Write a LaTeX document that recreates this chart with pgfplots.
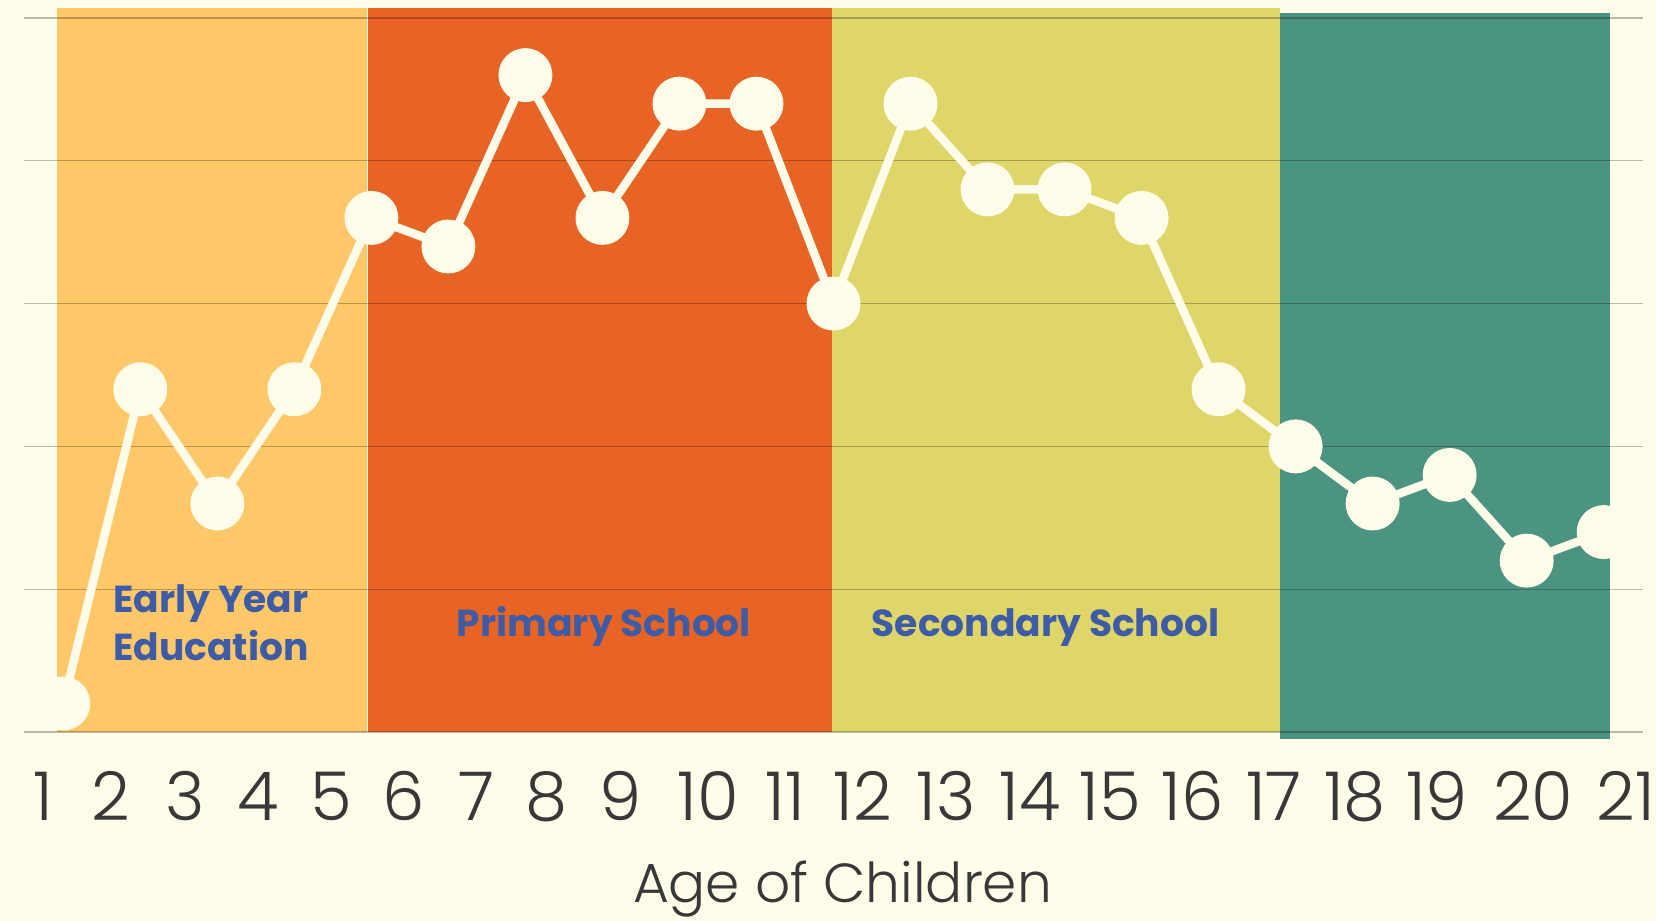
\documentclass[border=0pt]{standalone}
\usepackage{fontspec}
\setmainfont{Poppins}
\newfontfamily\plight{Poppins Light}
\usepackage{pgfplots}
\pgfplotsset{compat=1.18}
\definecolor{bgc}{RGB}{255,252,233}
\definecolor{bandA}{RGB}{254,200,104}
\definecolor{bandB}{RGB}{231,100,37}
\definecolor{bandC}{RGB}{223,214,106}
\definecolor{bandD}{RGB}{76,148,130}
\definecolor{linec}{RGB}{255,252,233}
\definecolor{txtblue}{RGB}{62,91,166}
\definecolor{tickc}{RGB}{56,56,56}
\begin{document}
\begin{tikzpicture}
\path[use as bounding box, fill=bgc] (0,0) rectangle (828pt,460.5pt);
% background axis: bands, grid, tick labels
\begin{axis}[
  at={(12pt,94.5pt)}, anchor=south west,
  scale only axis, width=809.35pt, height=357pt,
  xmin=0.4897, xmax=21.506, ymin=0, ymax=25,
  clip=false, axis on top,
  axis line style={draw=none},
  ytick={5,10,15,20,25}, yticklabels={},
  ymajorgrids,
  major grid style={draw=black, draw opacity=0.26, line width=0.65pt},
  extra y ticks={0}, extra y tick labels={},
  extra y tick style={grid style={draw=black, draw opacity=0.72, line width=0.8pt}},
  xtick={0.7364,1.6193,2.5801,3.5279,4.4757,5.4235,6.3583,7.2802,8.2409,9.3705,10.3703,11.3830,12.4606,13.5513,14.5900,15.6676,16.7193,17.7710,18.8357,20.0821,21.2896},
  xticklabels={1,2,3,4,5,6,7,8,9,10,11,12,13,14,15,16,17,18,19,20,21},
  major tick length=0pt,
  xticklabel style={anchor=base, yshift=-44.5pt, text=tickc, font=\plight\fontsize{33.7pt}{40pt}\selectfont},
]
\fill[bandA] (axis cs:0.9182,0) rectangle (axis cs:4.9405,25.35);
\fill[bandB] (axis cs:4.9535,0) rectangle (axis cs:10.9805,25.35);
\fill[bandC] (axis cs:10.9805,0) rectangle (axis cs:16.797,25.35);
\fill[bandD] (axis cs:16.797,-0.2346) rectangle (axis cs:21.078,25.175);
\end{axis}
% data axis, clipped to the bands
\begin{axis}[
  at={(28.5pt,87.36pt)}, anchor=south west,
  scale only axis, width=776.35pt, height=371.28pt,
  xmin=0.9182, xmax=21.078, ymin=-0.5, ymax=25.5,
  hide axis, clip=true,
]
\addplot[color=linec, line width=4.25pt, line join=round,
  mark=*, mark size=11.35pt, mark options={fill=linec, draw=none}]
  coordinates {(1,1) (2,12) (3,8) (4,12) (5,18) (6,17) (7,23) (8,18) (9,22) (10,22) (11,15) (12,22) (13,19) (14,19) (15,18) (16,12) (17,10) (18,8) (19,9) (20,6) (21,7)};
\end{axis}
\begin{scope}[every node/.style={anchor=base, inner sep=0pt, text=txtblue, font=\bfseries\fontsize{18.8pt}{22pt}\selectfont}]
\node at (105.5pt,154pt) {Early Year};
\node at (105.5pt,130pt) {Education};
\node at (302pt,142.15pt) {Primary School};
\node at (522.75pt,142.15pt) {Secondary School};
\end{scope}
\node[anchor=base, inner sep=0pt, text=tickc, font=\plight\fontsize{27.5pt}{33pt}\selectfont] at (421.25pt,9.2pt) {Age of Children};
\end{tikzpicture}
\end{document}
